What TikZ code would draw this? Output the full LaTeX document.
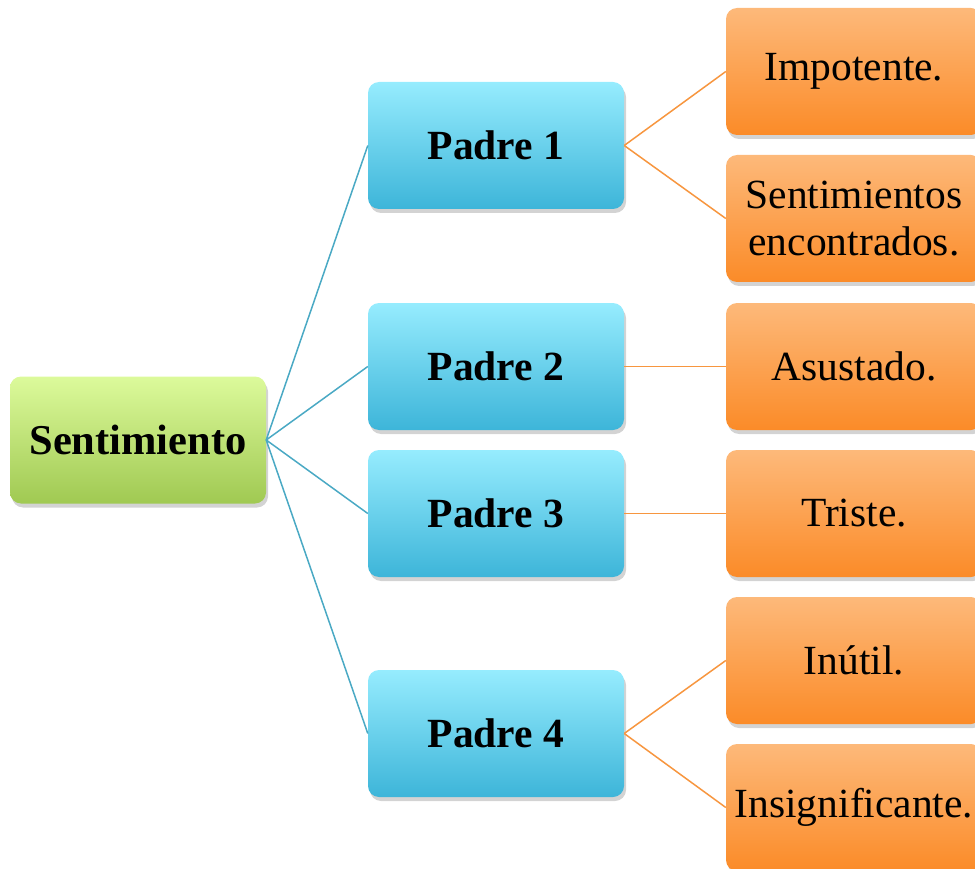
\documentclass[tikz,border=0pt]{standalone}
\usepackage{fontspec}
\setmainfont{Liberation Serif}
\usetikzlibrary{shadows}
\definecolor{greentop}{HTML}{DCFA9B}
\definecolor{greenbot}{HTML}{A0C952}
\definecolor{bluetop}{HTML}{96ECFE}
\definecolor{bluebot}{HTML}{3DB5D9}
\definecolor{orangetop}{HTML}{FDB97A}
\definecolor{orangebot}{HTML}{FB8B28}
\definecolor{tealline}{HTML}{4AA9C4}
\definecolor{orangeline}{HTML}{F7963F}
\begin{document}
\begin{tikzpicture}[x=1pt,y=-1pt,
    box/.style={rounded corners=11pt, minimum width=256pt, minimum height=127pt,
        inner sep=0pt, align=center, font=\fontsize{41.5}{47}\selectfont,
        drop shadow={shadow xshift=2pt, shadow yshift=-4pt, opacity=0.35}},
    rootbox/.style={box, top color=greentop, bottom color=greenbot, font=\fontsize{42.5}{47}\selectfont\bfseries},
    padrebox/.style={box, top color=bluetop, bottom color=bluebot, font=\fontsize{41.5}{47}\selectfont\bfseries},
    leafbox/.style={box, top color=orangetop, bottom color=orangebot},
    rootline/.style={tealline, line width=1.5pt},
    leafline/.style={orangeline, line width=1.5pt}]
                \useasboundingbox (0,0) rectangle (975,869);

                \node[rootbox] (root) at (138,440) {Sentimiento};

                \node[padrebox] (p1) at (496,145.5) {Padre 1};
                \node[padrebox] (p2) at (496,366.5) {Padre 2};
                \node[padrebox] (p3) at (496,513.5) {Padre 3};
                \node[padrebox] (p4) at (496,733.5) {Padre 4};

                \node[leafbox] (impotente) at (854,71.5) {Impotente.};
                \node[leafbox] (encontrados) at (854,218.5) {Sentimientos\\encontrados.};
                \node[leafbox] (asustado) at (854,366.5) {Asustado.};
                \node[leafbox] (triste) at (854,513.5) {Triste.};
                \node[leafbox] (inutil) at (854,660.5) {Inútil.};
                \node[leafbox] (insignificante) at (854,807.5) {Insignificante.};

                \draw[rootline] (root.east) -- (p1.west);
                \draw[rootline] (root.east) -- (p2.west);
                \draw[rootline] (root.east) -- (p3.west);
                \draw[rootline] (root.east) -- (p4.west);

                \draw[leafline] (p1.east) -- (impotente.west);
                \draw[leafline] (p1.east) -- (encontrados.west);
                \draw[leafline] (p2.east) -- (asustado.west);
                \draw[leafline] (p3.east) -- (triste.west);
                \draw[leafline] (p4.east) -- (inutil.west);
                \draw[leafline] (p4.east) -- (insignificante.west);
            \end{tikzpicture}
\end{document}
